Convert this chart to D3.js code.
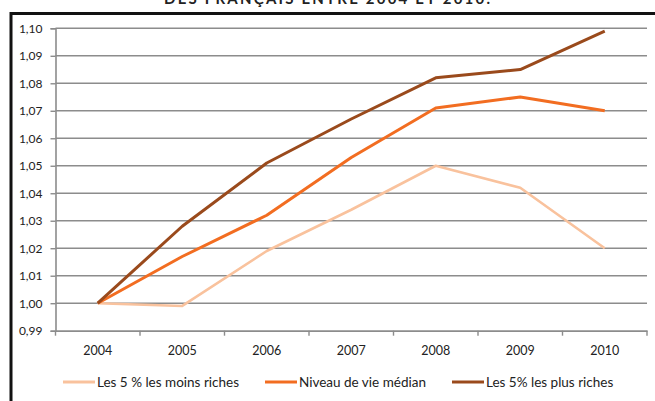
<!DOCTYPE html>
<html>
<head>
<meta charset="utf-8">
<script src="https://cdn.jsdelivr.net/npm/d3@7"></script>
<style>
  html, body { margin: 0; padding: 0; background: #fff; }
  svg { display: block; }
  text { font-family: Lato, "Open Sans", sans-serif; fill: #222; }
</style>
</head>
<body>
<svg id="chart" width="655" height="401"></svg>
<script>
// Niveau de vie, indice base 1 en 2004
const years = ["2004", "2005", "2006", "2007", "2008", "2009", "2010"];
const moinsRiches = [1.000, 0.999, 1.019, 1.034, 1.050, 1.042, 1.020];
const medianVals  = [1.000, 1.017, 1.032, 1.053, 1.071, 1.075, 1.070];
const plusRiches  = [1.000, 1.028, 1.051, 1.067, 1.082, 1.085, 1.099];
const yTicks = [0.99, 1.00, 1.01, 1.02, 1.03, 1.04, 1.05, 1.06, 1.07, 1.08, 1.09, 1.10];
const seriesNames = ["Les 5 % les moins riches", "Niveau de vie médian", "Les 5% les plus riches"];
const seriesColors = ["#f9c29d", "#f26d21", "#9a4a1c"];
const title = "DES FRANÇAIS ENTRE 2004 ET 2010.";

const series = [moinsRiches, medianVals, plusRiches].map((values, i) => ({
  name: seriesNames[i], color: seriesColors[i], values
}));

const svg = d3.select("#chart");
const plotLeft = 55.5, plotRight = 647, plotTop = 28.3, plotBottom = 330.7;

const x = d3.scaleBand().domain(years).range([plotLeft, plotRight]);
const y = d3.scaleLinear().domain([0.99, 1.10]).range([plotBottom, plotTop]);
const fmt = v => d3.format(".2f")(v).replace(".", ",");

// Title, partly cut by the top edge
svg.append("text")
  .attr("x", 327).attr("y", 4)
  .attr("text-anchor", "middle")
  .attr("font-weight", "bold")
  .attr("font-size", 15)
  .attr("textLength", 326)
  .text(title);

// Frame
svg.append("rect")
  .attr("x", 11).attr("y", 13.5)
  .attr("width", 700).attr("height", 450)
  .attr("fill", "none")
  .attr("stroke", "#111").attr("stroke-width", 3);

// Horizontal gridlines
svg.append("g")
  .selectAll("line")
  .data(yTicks.slice(1))
  .join("line")
  .attr("x1", plotLeft).attr("x2", plotRight)
  .attr("y1", d => y(d)).attr("y2", d => y(d))
  .attr("stroke", "#8c8c8c").attr("stroke-width", 1.6);

// Y axis
const yAxis = svg.append("g")
  .attr("transform", `translate(${plotLeft},0)`)
  .call(d3.axisLeft(y).tickValues(yTicks).tickFormat(fmt).tickSize(5).tickPadding(8));
yAxis.select(".domain").attr("stroke", "#8c8c8c").attr("stroke-width", 1.6);
yAxis.selectAll(".tick line").attr("stroke", "#8c8c8c").attr("stroke-width", 1.4);
yAxis.selectAll(".tick text")
  .attr("font-family", "Lato, sans-serif").attr("font-size", 12).attr("fill", "#222");

// X axis
const xAxis = svg.append("g")
  .attr("transform", `translate(0,${plotBottom})`)
  .call(d3.axisBottom(x).tickSize(0).tickPadding(15));
xAxis.select(".domain").attr("stroke", "#8c8c8c").attr("stroke-width", 1.8);
xAxis.selectAll(".tick text")
  .attr("font-family", "Lato, sans-serif").attr("font-size", 12.5).attr("fill", "#222");
// boundary tick marks between categories
xAxis.append("g")
  .selectAll("line")
  .data(years.map(d => x(d)).concat([x(years[years.length - 1]) + x.bandwidth()]))
  .join("line")
  .attr("x1", d => d).attr("x2", d => d)
  .attr("y1", 0).attr("y2", 5)
  .attr("stroke", "#8c8c8c").attr("stroke-width", 1.4);

// Lines
const line = d3.line()
  .x((d, i) => x(years[i]) + x.bandwidth() / 2)
  .y(d => y(d));

svg.append("g")
  .selectAll("path")
  .data(series)
  .join("path")
  .attr("d", d => line(d.values))
  .attr("fill", "none")
  .attr("stroke", d => d.color)
  .attr("stroke-width", (d, i) => i === 0 ? 2.6 : 3)
  .attr("stroke-linejoin", "round");

// Legend
const legendX = [63, 265, 452];
const legend = svg.append("g")
  .selectAll("g")
  .data(series)
  .join("g")
  .attr("transform", (d, i) => `translate(${legendX[i]},382)`);
legend.append("line")
  .attr("x1", 0).attr("x2", 32)
  .attr("stroke", d => d.color).attr("stroke-width", 3);
legend.append("text")
  .attr("x", 34).attr("dy", "0.35em")
  .attr("font-size", 13.5)
  .attr("fill", "#333")
  .text(d => d.name);
</script>
</body>
</html>
